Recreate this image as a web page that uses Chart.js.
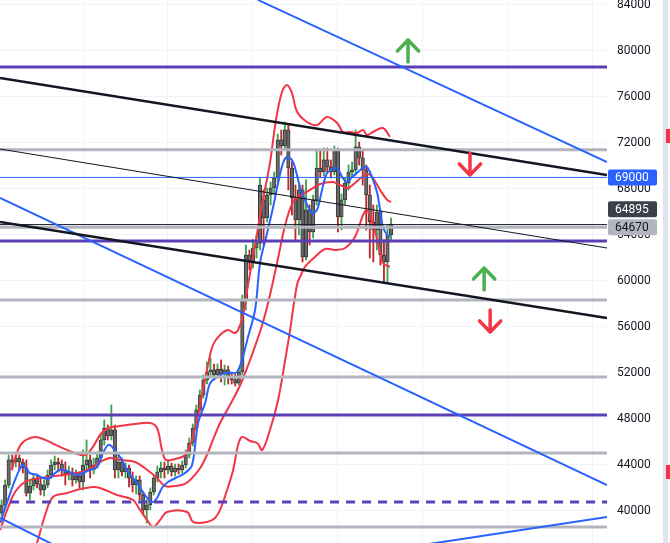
<!DOCTYPE html>
<html>
<head>
<meta charset="utf-8">
<script src="https://cdn.jsdelivr.net/npm/chart.js@4.4.1/dist/chart.umd.min.js"></script>
<style>
  html, body { margin: 0; padding: 0; background: #ffffff; }
  #wrap { position: relative; width: 670px; height: 543px; }
</style>
</head>
<body>
<div id="wrap"><canvas id="chart"></canvas></div>
<script>
// candles, oldest first; bar index of the first one
const firstBar = -23;
const opens = [39800, 40500, 42240, 44420, 44240, 44590, 44240, 43720, 41540, 42150,
  42850, 42330, 41810, 42240, 43110, 43980, 44240, 44070, 43550, 43200,
  43370, 42680, 43020, 42500, 43980, 44420, 43550, 43980, 44590, 46160,
  47200, 46500, 47030, 43550, 44240, 43370, 43720, 42850, 42240, 42680,
  41370, 40070, 40500, 41630, 42850, 43370, 43720, 43550, 43890, 43370,
  43720, 43550, 43980, 44850, 45890, 47200, 48770, 50070, 51380, 52070,
  52250, 51810, 52330, 51900, 52250, 51550, 51380, 51110, 52070, 58340,
  62250, 61640, 62860, 63290, 67040, 65470, 67470, 68080, 68950, 72260,
  71730, 73130, 69820, 67210, 65300, 67910, 62080, 66170, 64250, 67040,
  69820, 69470, 70520, 69910, 69470, 71390, 65560, 67040, 68510, 69470,
  69650, 71650, 70690, 69650, 67470, 65120, 64430, 65990, 62250, 61640,
  63990];
const highs = [40940, 42680, 44850, 44850, 45110, 44850, 44500, 44420, 42680, 43200,
  43200, 42850, 42680, 43550, 44420, 44760, 44590, 44420, 44240, 43890,
  43720, 43550, 43370, 45290, 46160, 44850, 44590, 45110, 46590, 47900,
  47460, 49200, 47460, 44850, 44590, 44150, 43980, 43370, 43020, 43020,
  41630, 40940, 41980, 43110, 43890, 44240, 44240, 44420, 44150, 44070,
  44070, 44330, 45290, 46330, 47550, 49200, 50510, 51810, 52940, 53290,
  52770, 52770, 53120, 52680, 52590, 52070, 51900, 52420, 58770, 63120,
  62690, 63560, 63990, 68950, 67910, 68080, 68600, 69470, 72780, 73130,
  73820, 73560, 70340, 68340, 68340, 68340, 68780, 66600, 67470, 71390,
  71390, 71560, 71560, 70520, 71730, 71560, 67560, 68950, 70080, 70340,
  73130, 72080, 71390, 70080, 68340, 66600, 66600, 66170, 63560, 64860,
  65470];
const lows = [39540, 40240, 41980, 43550, 43810, 43550, 43280, 41280, 40940, 41810,
  41980, 41370, 41280, 41980, 42850, 43550, 43370, 43020, 42240, 42680,
  42150, 42410, 41980, 41810, 43550, 42850, 43200, 43720, 44240, 45720,
  46160, 46160, 42850, 42850, 43020, 42850, 42070, 41630, 41460, 40940,
  39630, 38930, 40070, 41370, 42500, 42850, 42850, 43200, 43020, 43020,
  43200, 43280, 43720, 44590, 45630, 47030, 48590, 49810, 51030, 51550,
  51380, 51550, 51200, 50940, 51030, 51030, 50850, 50940, 51810, 57470,
  60950, 61120, 61990, 62690, 63120, 65120, 66600, 67470, 68600, 70950,
  71390, 67910, 65730, 63560, 63990, 61640, 61820, 63120, 63730, 66600,
  68950, 69120, 69470, 68950, 69210, 64250, 64430, 66600, 67910, 69120,
  69210, 70080, 68340, 64430, 61990, 61640, 62690, 61380, 59900, 59810,
  63560];
const closes = [40500, 42240, 44420, 44240, 44590, 44240, 43720, 41540, 42150, 42850,
  42330, 41810, 42240, 43110, 43980, 44240, 44070, 43550, 43200, 43370,
  42680, 43020, 42500, 43980, 44420, 43550, 43980, 44590, 46160, 47200,
  46500, 47030, 43550, 44240, 43370, 43720, 42850, 42240, 42680, 41370,
  40070, 40500, 41630, 42850, 43370, 43720, 43550, 43890, 43370, 43720,
  43550, 43980, 44850, 45890, 47200, 48770, 50070, 51380, 52070, 52250,
  51810, 52330, 51900, 52250, 51550, 51380, 51110, 52070, 58340, 62250,
  61640, 62860, 63290, 68340, 65470, 67470, 68080, 68950, 72260, 71730,
  73130, 69820, 67210, 65300, 67910, 62080, 66170, 64250, 67040, 69820,
  69470, 70520, 69910, 69470, 71390, 65560, 67040, 68510, 69470, 69650,
  71650, 70690, 69650, 67470, 65120, 64430, 65990, 62250, 61640, 63990,
  64895];

// indicators as [bar index, price]
const bbUpper = [[-20.1, 43550], [-19.2, 44590], [-17.2, 45890], [-13.6, 46410], [-10.7, 46160],
  [-6.5, 45550], [-2.3, 45020], [0.6, 44850], [2.8, 45550], [4.8, 46590], [7.1, 47200],
  [10.5, 47370], [14.7, 47550], [18.9, 47630], [20.9, 47200], [22.3, 45290], [23.4, 44420],
  [26.0, 44500], [28.8, 44850], [30.8, 46160], [32.5, 48330], [33.9, 50510], [35.3, 52680],
  [36.7, 54420], [38.7, 55290], [41.0, 55730], [42.7, 55460], [43.8, 55730], [45.2, 57030],
  [46.6, 59640], [48.6, 63120], [50.8, 67040], [52.8, 70250], [54.5, 74000], [56.2, 76430],
  [57.6, 77040], [59.0, 76350], [60.5, 74690], [63.3, 73820], [66.1, 73560], [68.9, 74250],
  [71.8, 73730], [73.4, 72950], [75.4, 72950], [77.4, 72860], [79.1, 73130], [80.2, 72690],
  [81.9, 72950], [84.7, 73300], [86.7, 72520]];
const bbBasis = [[-23.4, 38330], [-21.2, 40240], [-19.2, 41630], [-16.4, 42500], [-12.1, 42850],
  [-7.9, 43020], [-3.7, 43200], [0.6, 43460], [4.8, 44240], [7.6, 44590], [10.5, 44420],
  [14.7, 44240], [18.9, 43370], [20.9, 42850], [23.2, 42150], [26.0, 42150], [28.8, 42330],
  [30.8, 42850], [33.1, 43720], [35.0, 44850], [36.7, 46160], [38.7, 47630], [41.5, 49200],
  [44.4, 50940], [47.2, 53120], [50.6, 56160], [52.8, 58770], [55.1, 61990], [57.1, 64860],
  [59.3, 66860], [61.3, 67380], [64.1, 67910], [67.0, 68430], [70.6, 68600], [73.2, 68250],
  [74.9, 68080], [76.8, 68510], [78.8, 69040], [80.5, 69300], [81.9, 68950], [83.9, 67910],
  [85.9, 67040], [87.0, 66860]];
const bbLower = [[-15.5, 34850], [-13.0, 37190], [-10.7, 39630], [-8.5, 41200], [-4.5, 41540],
  [-0.8, 41890], [2.8, 42070], [4.8, 41980], [9.6, 41370], [14.1, 40940], [16.1, 40070],
  [18.1, 39200], [19.8, 38590], [21.8, 39200], [23.7, 39890], [29.4, 39890], [31.1, 39020],
  [35.0, 39020], [37.3, 39370], [38.7, 40070], [40.7, 41810], [42.4, 43550], [43.8, 45720],
  [44.9, 46420], [47.2, 46070], [49.2, 45890], [50.6, 45290], [52.8, 47030], [55.1, 49640],
  [57.1, 53120], [58.5, 55730], [59.3, 57470], [60.5, 59730], [61.3, 60340], [62.7, 61210],
  [65.5, 62080], [68.4, 62770], [71.2, 62690], [74.0, 62860], [76.8, 63820], [79.1, 65730],
  [80.2, 66170], [81.9, 64950], [83.9, 62510], [84.7, 61550], [86.7, 61210]];
const emaLine = [[-23.4, 38930], [-21.2, 40940], [-19.2, 42680], [-17.2, 43980], [-16.4, 43810],
  [-15.0, 43280], [-13.0, 43110], [-11.3, 42850], [-9.3, 42850], [-7.9, 43280], [-6.5, 43550],
  [-4.5, 43460], [-1.7, 43110], [0, 43280], [2.0, 43550], [4.0, 43810], [5.4, 44850],
  [7.1, 45720], [8.5, 45460], [11.0, 44420], [12.7, 43370], [15.3, 42410], [17.5, 41370],
  [19.5, 40760], [20.9, 41110], [22.3, 41980], [24.0, 42500], [26.8, 42940], [28.8, 43280],
  [30.8, 43980], [32.5, 47630], [34.5, 49370], [35.9, 51110], [37.9, 51640], [40.1, 51990],
  [42.1, 51990], [43.5, 52070], [44.9, 53120], [46.6, 55120], [48.6, 57470], [50.0, 61550],
  [52.0, 64160], [53.7, 66430], [55.1, 68510], [56.5, 70250], [57.6, 70780], [59.0, 70520],
  [59.9, 69820], [61.3, 68170], [62.7, 67040], [64.7, 65900], [66.1, 66170], [67.5, 67910],
  [68.9, 69380], [70.3, 69650], [71.8, 69820], [73.2, 69040], [74.6, 68600], [76.0, 69040],
  [77.7, 69470], [79.1, 69820], [80.2, 69910], [81.6, 69040], [83.1, 67640], [83.9, 66170],
  [84.7, 64690], [85.9, 63990], [86.7, 63820]];

// horizontal levels
const grayLevels = [71400, 64670, 58340, 51640, 45020, 38590];
const purpleLevels = [78600, 63470, 48330];
const dashedLevel = 40760;
const dashedFrom = -20.6;
const alertLevel = 69000;
const lastPrice = 64895;

// trend lines, each [[bar, price], [bar, price]]
const blackThick = [[[-23.45, 77650], [148, 69210]], [[-23.45, 65120], [148, 56770]]];
const blackThin = [[[-23.45, 71470], [148, 62860]]];
const blueTrends = [[[49.4, 84440], [148, 70340]], [[-23.45, 67210], [148, 42240]],
  [[-23.45, 39370], [-6.5, 36760]], [[95.2, 36990], [148, 39460]]];

// arrow tips [bar, price]
const upArrows = [[91.8, 80960], [113.3, 61120]];
const downArrows = [[109.3, 69210], [115.0, 55550]];

const yTicks = [40000, 44000, 48000, 52000, 56000, 60000, 64000, 68000, 72000, 76000, 80000, 84000];
const xGrid = [0, 24, 48, 72, 96, 120, 144];

const X_MIN = -23.45, X_MAX = 148, Y_MIN = 37194, Y_MAX = 84435;
const RED = '#f23645', BLUE = '#2962ff', GREEN = '#4caf50', PURPLE = '#5b3fb5', GRAY = '#b2b5be';

const barX = closes.map((c, k) => firstBar + k);
const isUp = k => closes[k] >= opens[k];

function pts(list) { return list.map(p => ({ x: p[0], y: p[1] })); }

function level(v, color, width, extra) {
  return Object.assign({
    type: 'line', data: [{ x: X_MIN, y: v }, { x: X_MAX, y: v }],
    borderColor: color, borderWidth: width, pointRadius: 0, order: 5
  }, extra || {});
}

function segment(seg, color, width) {
  return { type: 'line', data: pts(seg), borderColor: color, borderWidth: width,
    pointRadius: 0, order: 4 };
}

function arrow(tip, dir, color) {
  const [x, y] = tip;
  const head = 960 * dir, stem = 1920 * dir;
  return {
    type: 'line',
    data: [{ x: x, y: y - stem }, { x: x, y: y }, { x: x - 3, y: y - head },
           { x: x, y: y }, { x: x + 3, y: y - head }],
    borderColor: color, borderWidth: 3.5, pointRadius: 0,
    borderCapStyle: 'round', borderJoinStyle: 'round', order: 1
  };
}

function band(list, color) {
  return { type: 'line', data: pts(list), borderColor: color, borderWidth: 2,
    pointRadius: 0, tension: 0.35, order: 8 };
}

const datasets = [];

// wicks and bodies
datasets.push({
  type: 'bar', data: barX.map((x, k) => ({ x: x, y: [lows[k], highs[k]] })),
  backgroundColor: ctx => isUp(ctx.dataIndex) ? '#3fa34d' : '#c0262d',
  barThickness: 1.2, grouped: false, order: 21
});
datasets.push({
  type: 'bar', data: barX.map((x, k) => ({ x: x, y: [opens[k], closes[k]] })),
  backgroundColor: '#6a6a6a', borderColor: '#3a3a3a', borderWidth: 1, borderSkipped: false,
  barThickness: 3.5, minBarLength: 1, grouped: false, order: 20
});

datasets.push(band(bbUpper, RED), band(bbBasis, RED), band(bbLower, RED));
datasets.push({ type: 'line', data: pts(emaLine), borderColor: BLUE, borderWidth: 2,
  pointRadius: 0, tension: 0.35, order: 7 });

grayLevels.forEach(v => datasets.push(level(v, GRAY, 3)));
datasets.push(level(grayLevels[1], '#8a8d96', 1, { borderDash: [2, 2] }));
purpleLevels.forEach(v => datasets.push(level(v, PURPLE, 3)));
datasets.push({ type: 'line', data: [{ x: dashedFrom, y: dashedLevel }, { x: X_MAX, y: dashedLevel }],
  borderColor: PURPLE, borderWidth: 3, borderDash: [9, 7], pointRadius: 0, order: 5 });
datasets.push(level(alertLevel, BLUE, 1));
datasets.push(level(lastPrice, '#131722', 1));

blackThick.forEach(s => datasets.push(segment(s, '#131722', 2.5)));
blackThin.forEach(s => datasets.push(segment(s, '#131722', 1)));
blueTrends.forEach(s => datasets.push(segment(s, BLUE, 2)));

upArrows.forEach(t => datasets.push(arrow(t, 1, GREEN)));
downArrows.forEach(t => datasets.push(arrow(t, -1, RED)));

// price boxes on the axis and the side strip
const axisLabels = {
  id: 'axisLabels',
  afterDraw(chart) {
    const ctx = chart.ctx, ys = chart.scales.y, left = ys.left + 1;
    function box(text, yc, bg, fg) {
      ctx.save();
      ctx.fillStyle = bg;
      ctx.beginPath();
      ctx.roundRect(left, yc - 8, 49, 16, 2);
      ctx.fill();
      ctx.fillStyle = fg;
      ctx.font = '12px Roboto, sans-serif';
      ctx.textBaseline = 'middle';
      ctx.textAlign = 'left';
      ctx.fillText(text, left + 7, yc + 0.5);
      ctx.restore();
    }
    const yGray = ys.getPixelForValue(grayLevels[1]);
    box(String(alertLevel), ys.getPixelForValue(alertLevel), BLUE, '#ffffff');
    box(String(lastPrice), yGray - 18, '#3d404b', '#ffffff');
    box(String(grayLevels[1]), yGray, GRAY, '#131722');
    ctx.save();
    ctx.fillStyle = '#e0e3eb';
    ctx.fillRect(663, 0, 5, chart.height);
    ctx.fillStyle = RED;
    ctx.fillRect(666, 129, 4, 14);
    ctx.fillRect(666, 465, 4, 14);
    ctx.restore();
  }
};

function noPad(s) {
  s.paddingTop = 0; s.paddingBottom = 0; s.paddingLeft = 0; s.paddingRight = 0;
}

new Chart(document.getElementById('chart'), {
  type: 'bar',
  data: { datasets: datasets },
  options: {
    responsive: true,
    maintainAspectRatio: false,
    animation: false,
    layout: { padding: { right: 7, left: 0, top: 0, bottom: 0 } },
    plugins: { legend: { display: false }, tooltip: { enabled: false } },
    scales: {
      x: {
        type: 'linear', min: X_MIN, max: X_MAX, offset: false,
        afterBuildTicks: s => { s.ticks = xGrid.map(v => ({ value: v })); },
        afterFit: s => { s.height = 0; noPad(s); },
        ticks: { display: false },
        grid: { color: '#f0f3fa', drawTicks: false, offset: false },
        border: { display: false }
      },
      y: {
        position: 'right', min: Y_MIN, max: Y_MAX,
        afterBuildTicks: s => { s.ticks = yTicks.map(v => ({ value: v })); },
        afterFit: s => { s.width = 56; noPad(s); },
        ticks: {
          autoSkip: false, padding: 10, color: '#131722',
          font: { family: 'Roboto', size: 12 },
          callback: v => String(v)
        },
        grid: { color: '#f0f3fa', drawTicks: false },
        border: { display: false }
      }
    }
  },
  plugins: [axisLabels]
});
</script>
</body>
</html>
